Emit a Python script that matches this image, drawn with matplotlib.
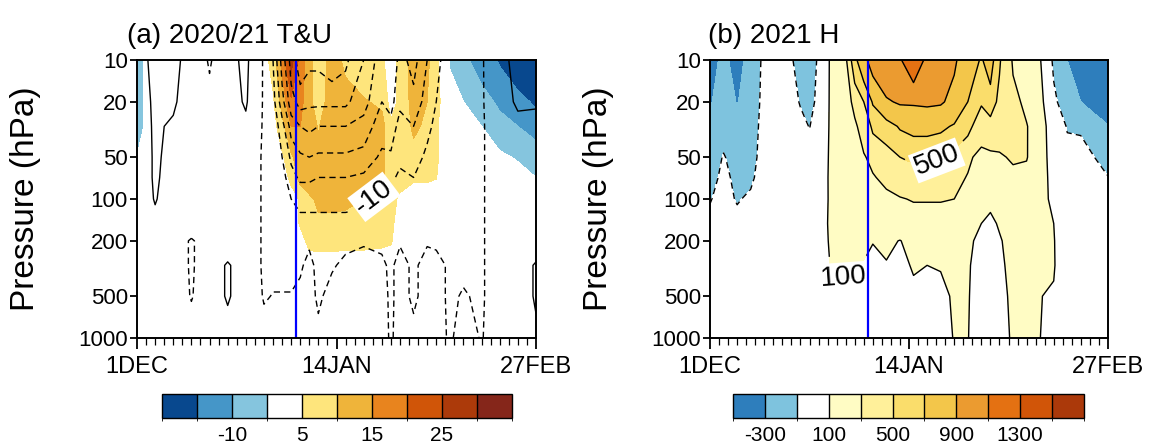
import numpy as np
import matplotlib
matplotlib.use('Agg')
import matplotlib.pyplot as plt
from matplotlib.colors import ListedColormap, BoundaryNorm
import matplotlib.colorbar as mcolorbar

plt.rcParams['font.family'] = ['Liberation Sans', 'DejaVu Sans']
plt.rcParams['lines.dashed_pattern'] = [4.5, 3.0]
plt.rcParams['axes.unicode_minus'] = False

# ---- data (days since 1 Dec, pressure in hPa) ----
pres = [10, 20, 30, 50, 70, 100, 150, 200, 300, 500, 1000]

days_a = [0, 4, 8, 12, 16, 20, 24, 28, 30, 32, 34, 36, 38, 40, 43, 46, 50, 54,
          56, 58, 61, 64, 66, 69, 72, 76, 80, 84, 88]

temp_a = [
    [-8, 0, 0, 0, 1, 1, 2, 3, 7, 16, 27, 18, 12, 7, 12, 9, 7, 6, 2, 7, 12, 11, 7, -6, -9, -12, -15.5, -19, -22],
    [-8, 0, 0, 0, 0, 1, 1, 2, 4, 12, 19, 17, 11, 8, 12, 12, 10.5, 9, 3, 6, 12, 10, 7, 0, -5, -8, -11, -13, -16],
    [-8, 0, 0, 0, 0, 0, 1, 1, 3, 8, 15, 15, 12, 9.7, 13, 13, 13, 12, 6, 6, 11, 9, 6, -1, -3, -5, -8, -10, -12],
    [-4.8, 0, 0, 0, 0, 0, 0, 0, 2, 4, 9, 13, 13, 11, 13, 13, 13, 11, 7, 6, 8, 8, 6, 0, -1, -3, -4, -5.5, -7],
    [-2, 0, 0, 0, 0, 0, 0, 0, 1, 3, 6, 12, 13, 12, 12, 12, 11, 11, 8, 6, 5.5, 5.5, 5.2, 0, 0, -1, -2, -3, -5],
    [0, 0, 0, 0, 0, 0, 0, 0, 0, 1, 3, 5.5, 9, 11, 11, 11, 10, 8, 6, 4.5, 3, 3, 2, 0, 0, -1, -1, -2, -3],
    [0, 0, 0, 0, 0, 0, 0, 0, 0, 0, 2, 5.5, 8, 9, 9, 8.5, 8, 7, 6, 3, 1, 0, 0, 0, 0, 0, 0, 0, 0],
    [0, 0, 0, 0, 0, 0, 0, 0, 0, 0, 1, 3, 6.5, 7, 7, 6.5, 6.5, 6, 5.5, 2, 0, 0, 0, 0, 0, 0, 0, 0, 0],
    [0, 0, 0, 0, 0, 0, 0, 0, 0, 0, 0, 1, 2, 2, 2, 2, 2, 2, 2, 1, 0, 0, 0, 0, 0, 0, 0, 0, 0],
    [0, 0, 0, 0, 0, 0, 0, 0, 0, 0, 0, 0, 0, 0, 0, 0, 0, 0, 0, 0, 0, 0, 0, 0, 0, 0, 0, 0, 0],
    [0, 0, 0, 0, 0, 0, 0, 0, 0, 0, 0, 0, 0, 0, 0, 0, 0, 0, 0, 0, 0, 0, 0, 0, 0, 0, 0, 0, 0],
]

wind_a = [
    [2, 7, 7, 2, -6, 2, 7, -6, -10, -22, -32, -38, -36, -36, -38, -36, -30, -22, -25, -18, -22, -15, -12, -6, -9, -6, 3, 7, 8],
    [2, 6, 6, 1, -2, 1, 6, -6, -8, -18, -28, -32, -31, -31, -31, -31, -27, -20, -22, -16, -18, -13, -10, -6, -7, -6, 2, 6, 6],
    [1, 6, 4, 0, 0, 0, 3, -6, -6, -13, -22, -25, -26, -25, -25, -25, -23, -17, -18, -13, -15, -11, -9, -6, -6, -6, 0, 3, 2],
    [0, 6, 3, 0, 0, 0, 0, -6, -5.5, -10, -16, -19, -20, -19, -19, -19, -18, -14, -14, -11, -12, -9, -8, -6, -6, -6, 0, 1, 1],
    [0, 6, 2, 0, 0, 0, 0, -6, -5.5, -8, -13, -16, -16, -15, -15, -15, -14, -12, -11, -9, -10, -7, -7, -6, -6, -6, 0, 0, 0],
    [0, 5.5, 1, 0, 0, 0, 0, -6, -5.5, -7, -10, -11, -11, -11, -11, -11, -10.5, -9, -8, -7, -8, -6, -6.5, -6, -6, -6, 0, 0, 0],
    [0, 3, 0, 0, 0, 0, 0, -6, -6, -7, -8, -9, -9, -9, -9, -9, -9, -7, -6, -6, -6, -6, -6, -6, -6, -6, 0, 0, 0],
    [0, 0, 0, -6, 0, 0, 0, -6, -6, -6.5, -7, -7, -5.5, -6, -5.5, -6, -5.5, -6, -6, -5.5, -6, -5.5, -6, -6, -6, -6, 0, 0, 0],
    [0, 0, 0, -6, 0, 6, 0, -6, -6, -6, -6, -5.5, -4, -6, -5.5, -4, -3, -4, -6, -3, -6, -3, -3, -6, -6, -6, 0, 0, 6],
    [0, 0, 0, -5.5, 0, 6, 0, -5.5, -4.8, -4.8, -4.8, -4, -3, -6, -3, -3, -3, -3, -6, -3, -6, -3, -3, -6, -4.5, -6, 0, 0, 6],
    [0, 0, 0, 0, 0, 0, 0, -2, -2, -2, -2, -2, -2, -3, -2, -2, -2, -2, -6, -2, -3, -2, -2, -6, -2, -5.5, 0, 0, 3],
]

days_b = [0, 3, 6, 9, 12, 16, 20, 22, 25, 27, 30, 32, 34, 36, 39, 42, 45, 48,
          51, 54, 57, 60, 62, 64, 67, 70, 73, 76, 79, 82, 85, 88]

# columns of H (one list per day in days_b), top (10 hPa) to bottom (1000 hPa)
hgt_cols = [
    [-380, -320, -220, -180, -160, -110, -50, -20, 0, 0, 0],
    [-250, -200, -150, -90, -60, -40, -10, 0, 0, 0, 0],
    [-380, -310, -200, -160, -140, -115, -40, 0, 0, 0, 0],
    [-220, -200, -180, -160, -130, -70, -10, 0, 0, 0, 0],
    [-60, -50, -40, -30, -20, -10, 0, 0, 0, 0, 0],
    [0, 0, 0, 0, 0, 0, 0, 0, 0, 0, 0],
    [-170, -110, -60, -20, 0, 10, 20, 20, 20, 10, 0],
    [-200, -160, -105, -30, 0, 10, 20, 20, 20, 10, 0],
    [-10, 0, 10, 30, 40, 50, 60, 60, 50, 20, 0],
    [150, 150, 150, 150, 150, 140, 140, 130, 115, 70, 20],
    [260, 250, 240, 220, 210, 190, 170, 150, 120, 60, 20],
    [650, 330, 280, 250, 230, 200, 170, 140, 110, 50, 10],
    [850, 500, 350, 290, 260, 220, 170, 130, 90, 30, 0],
    [980, 720, 540, 330, 290, 240, 180, 105, 60, 20, 0],
    [1020, 880, 620, 400, 330, 270, 190, 130, 90, 30, 0],
    [1080, 920, 720, 500, 380, 290, 200, 95, 60, 20, 0],
    [1250, 920, 760, 540, 400, 310, 220, 150, 115, 60, 20],
    [1050, 930, 760, 540, 400, 310, 220, 140, 100, 50, 10],
    [980, 920, 740, 510, 390, 310, 220, 140, 108, 60, 20],
    [920, 850, 680, 420, 350, 300, 220, 150, 130, 120, 110],
    [820, 700, 560, 330, 290, 250, 160, 130, 115, 110, 105],
    [680, 520, 380, 250, 200, 150, 100, 60, 40, 30, 20],
    [800, 600, 420, 260, 200, 120, 80, 40, 20, 10, 0],
    [520, 450, 380, 280, 220, 160, 110, 90, 80, 70, 70],
    [280, 350, 360, 320, 260, 200, 150, 140, 130, 120, 110],
    [200, 260, 310, 310, 250, 190, 150, 130, 120, 115, 110],
    [110, 150, 180, 170, 150, 130, 120, 110, 105, 102, 101],
    [-130, -60, 0, 30, 60, 80, 100, 105, 108, 90, 40],
    [-300, -210, -110, -50, 0, 20, 30, 30, 20, 10, 0],
    [-380, -300, -110, -70, -30, 0, 0, 0, 0, 0, 0],
    [-450, -360, -220, -100, -60, -20, 0, 0, 0, 0, 0],
    [-500, -420, -290, -160, -95, -40, 0, 0, 0, 0, 0],
]

t_levels = [-15, -10, -5, 5, 10, 15, 20, 25, 30]
t_colors = ['#08488e', '#4596c8', '#85c5de', '#ffffff', '#fee57c', '#efb43a',
            '#e8841e', '#d05508', '#ac3a0a', '#85261a']
t_ticks = [-10, 5, 15, 25]

u_levels = [-45, -40, -35, -30, -25, -20, -15, -10, -5, 5, 10, 15, 20, 25, 30]

h_levels = [-300, -100, 100, 300, 500, 700, 900, 1100, 1300, 1500]
h_colors = ['#2e7ebc', '#7ec3de', '#ffffff', '#fffcc4', '#fff09a', '#fadd6b',
            '#f3c64a', '#eb9b30', '#e47112', '#d15508', '#ab390a']
h_ticks = [-300, 100, 500, 900, 1300]
h_lines = [-100, 100, 300, 500, 700, 900, 1100, 1300]

event_day = 35


def style_axes(ax):
    ax.set_yscale('log')
    ax.set_xlim(0, 88)
    ax.set_ylim(1000, 10)
    ax.set_yticks([10, 20, 50, 100, 200, 500, 1000])
    ax.set_yticklabels(['10', '20', '50', '100', '200', '500', '1000'])
    ax.yaxis.set_minor_locator(matplotlib.ticker.NullLocator())
    ax.set_xticks([0, 44, 88])
    ax.set_xticklabels(['1DEC', '14JAN', '27FEB'])
    ax.set_xticks(np.arange(0, 89, 2), minor=True)
    ax.tick_params(axis='x', which='major', direction='out', length=8, width=1.3)
    ax.tick_params(axis='y', which='major', direction='out', length=5, width=1.3)
    ax.tick_params(axis='x', which='minor', direction='out', length=5, width=0.9)
    ax.tick_params(axis='y', labelsize=16, pad=1.5)
    ax.tick_params(axis='x', labelsize=17, pad=5)
    for s in ax.spines.values():
        s.set_linewidth(1.4)
        s.set_zorder(6)
    ax.set_ylabel('Pressure (hPa)', fontsize=24)
    ax.yaxis.set_label_coords(-0.24, 0.5)
    ax.axvline(event_day, color='#0000ff', lw=1.6, zorder=5)


def add_bar(rect, levels, colors, ticks):
    cax = fig.add_axes(rect)
    step = levels[1] - levels[0]
    bounds = [levels[0] - step] + list(levels) + [levels[-1] + step]
    cmap = ListedColormap(colors)
    norm = BoundaryNorm(bounds, cmap.N)
    cb = mcolorbar.ColorbarBase(cax, cmap=cmap, norm=norm, boundaries=bounds,
                                spacing='uniform', orientation='horizontal',
                                ticks=ticks, drawedges=True)
    cb.outline.set_linewidth(1.0)
    cb.dividers.set_linewidth(1.0)
    cax.tick_params(length=0, labelsize=15, pad=6)
    return cb


def add_labels(ax, x, y, z, levels, spots, ls):
    # separate contour set holding only the labelled levels
    cs = ax.contour(x, y, z, levels=levels, colors='k', linewidths=1.0, linestyles=ls)
    texts = ax.clabel(cs, manual=spots, fmt=lambda v: f'{v:.0f}',
                      fontsize=20, inline=True, inline_spacing=10)
    for t in texts:
        t.set_bbox(dict(facecolor='white', edgecolor='none', pad=1.5))


fig = plt.figure(figsize=(11.56, 4.44), dpi=100)

# (a) T shading + U contours
ax1 = fig.add_axes([137 / 1156, 106 / 444, 399 / 1156, 278 / 444])
style_axes(ax1)
T = np.array(temp_a)
U = np.array(wind_a)
ax1.contourf(days_a, pres, T, levels=[-100] + t_levels + [100], colors=t_colors)
u_draw = [v for v in u_levels if v != -10]
ax1.contour(days_a, pres, U, levels=u_draw, colors='k', linewidths=1.0,
            linestyles=['dashed' if v < 0 else 'solid' for v in u_draw])
add_labels(ax1, days_a, pres, U, [-10], [(52.5, 100)], 'dashed')
ax1.set_xlim(0, 88)
ax1.set_ylim(1000, 10)
fig.text(127 / 1156, 401 / 444, '(a) 2020/21 T&U', fontsize=20, ha='left', va='baseline')

# (b) H shading + contours
ax2 = fig.add_axes([710 / 1156, 106 / 444, 398 / 1156, 278 / 444])
style_axes(ax2)
H = np.array(hgt_cols).T
ax2.contourf(days_b, pres, H, levels=[-5000] + h_levels + [5000], colors=h_colors)
h_draw = [v for v in h_lines if v not in (100, 500)]
ax2.contour(days_b, pres, H, levels=h_draw, colors='k', linewidths=1.0,
            linestyles=['dashed' if v < 0 else 'solid' for v in h_draw])
add_labels(ax2, days_b, pres, H, [100, 500], [(29.5, 380), (51, 64)], 'solid')
ax2.set_xlim(0, 88)
ax2.set_ylim(1000, 10)
fig.text(708 / 1156, 401 / 444, '(b) 2021 H', fontsize=20, ha='left', va='baseline')

add_bar([162 / 1156, 26 / 444, 350 / 1156, 24 / 444], t_levels, t_colors, t_ticks)
add_bar([733 / 1156, 26 / 444, 351 / 1156, 24 / 444], h_levels, h_colors, h_ticks)

fig.savefig('out.png', dpi=100)
